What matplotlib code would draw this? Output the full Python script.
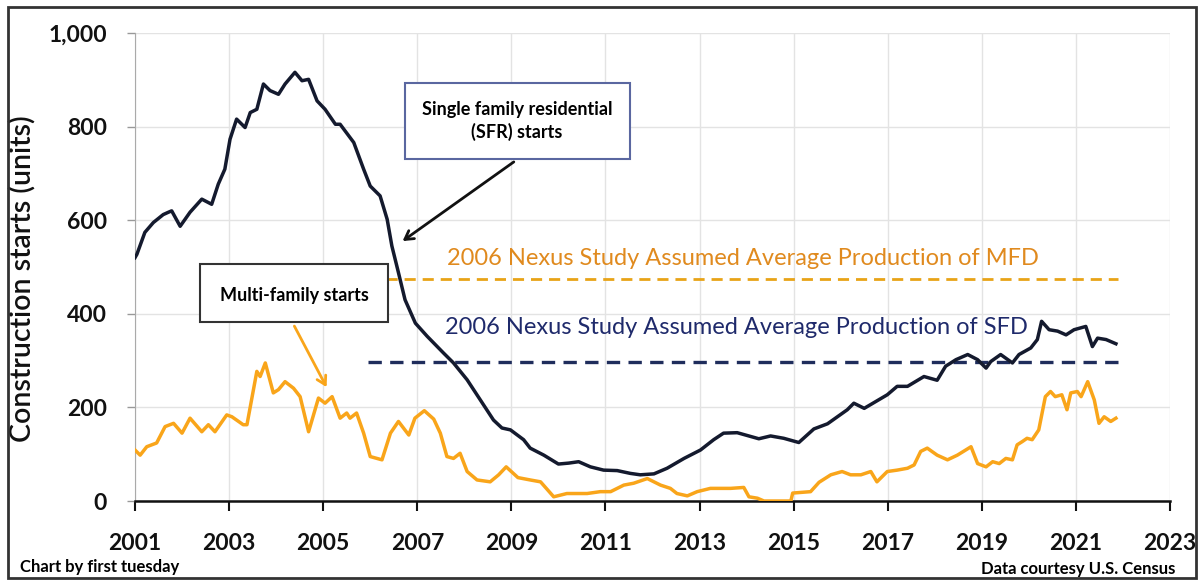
import matplotlib
matplotlib.use("Agg")
import matplotlib.pyplot as plt
from matplotlib.patches import Rectangle
from matplotlib.ticker import FuncFormatter

plt.rcParams['font.family'] = ['Lato', 'DejaVu Sans']

# single family starts (year, units)
sfr_years = [2001.0, 2001.04, 2001.21, 2001.39, 2001.6, 2001.71, 2001.78, 2001.96, 2002.17, 2002.42,
             2002.63, 2002.77, 2002.91, 2003.02, 2003.16, 2003.34, 2003.45, 2003.59, 2003.73, 2003.87,
             2004.05, 2004.19, 2004.40, 2004.55, 2004.69, 2004.87, 2005.04, 2005.26, 2005.36, 2005.65,
             2005.86, 2006.0, 2006.21, 2006.36, 2006.46, 2006.60, 2006.74, 2006.96, 2007.21, 2007.56,
             2007.77, 2008.06, 2008.34, 2008.62, 2008.8, 2008.98, 2009.26, 2009.40, 2009.69, 2010.0,
             2010.22, 2010.43, 2010.68, 2010.96, 2011.25, 2011.53, 2011.74, 2012.03, 2012.31, 2012.67,
             2013.02, 2013.30, 2013.51, 2013.80, 2014.26, 2014.51, 2014.79, 2015.11, 2015.43, 2015.72,
             2016.14, 2016.28, 2016.50, 2016.99, 2017.20, 2017.42, 2017.77, 2017.91, 2018.05, 2018.23,
             2018.45, 2018.70, 2018.91, 2019.09, 2019.19, 2019.40, 2019.65, 2019.79, 2020.04, 2020.18,
             2020.27, 2020.43, 2020.61, 2020.79, 2020.96, 2021.21, 2021.35, 2021.46, 2021.64, 2021.85]
sfr_vals = [520, 527, 574, 595, 612, 617, 620, 587, 617, 645,
            634, 677, 709, 773, 816, 798, 830, 837, 891, 877,
            869, 891, 916, 898, 901, 855, 837, 805, 805, 766,
            709, 673, 652, 602, 545, 488, 430, 380, 352, 316,
            295, 259, 216, 173, 156, 152, 131, 113, 98, 79,
            81, 84, 73, 66, 65, 59, 56, 58, 70, 91,
            109, 131, 145, 146, 133, 139, 134, 125, 154, 165,
            195, 209, 198, 227, 245, 245, 266, 262, 258, 288,
            302, 313, 302, 284, 298, 313, 295, 313, 327, 345,
            384, 366, 363, 355, 366, 373, 330, 348, 345, 336]

# multi-family starts
mfr_years = [2001.0, 2001.11, 2001.25, 2001.46, 2001.64, 2001.82, 2002.0, 2002.17, 2002.42, 2002.56,
             2002.70, 2002.95, 2003.06, 2003.30, 2003.38, 2003.59, 2003.66, 2003.77, 2003.94, 2004.05,
             2004.19, 2004.37, 2004.51, 2004.69, 2004.90, 2005.04, 2005.19, 2005.36, 2005.50, 2005.57,
             2005.71, 2005.86, 2006.0, 2006.25, 2006.43, 2006.60, 2006.82, 2006.95, 2007.15, 2007.35,
             2007.49, 2007.63, 2007.77, 2007.91, 2008.06, 2008.27, 2008.55, 2008.73, 2008.89, 2009.14,
             2009.40, 2009.62, 2009.90, 2010.18, 2010.61, 2010.89, 2011.11, 2011.39, 2011.60, 2011.89,
             2012.17, 2012.38, 2012.52, 2012.74, 2012.95, 2013.23, 2013.66, 2013.94, 2014.05, 2014.23,
             2014.37, 2014.94, 2014.98, 2015.36, 2015.54, 2015.79, 2016.03, 2016.21, 2016.43, 2016.64,
             2016.77, 2016.99, 2017.20, 2017.42, 2017.56, 2017.70, 2017.84, 2018.05, 2018.27, 2018.48,
             2018.77, 2018.91, 2019.09, 2019.23, 2019.37, 2019.51, 2019.65, 2019.75, 2019.86, 2019.96,
             2020.07, 2020.21, 2020.35, 2020.46, 2020.56, 2020.70, 2020.81, 2020.89, 2021.03, 2021.11,
             2021.25, 2021.39, 2021.49, 2021.60, 2021.74, 2021.85]
mfr_vals = [109, 98, 116, 124, 159, 166, 145, 177, 148, 163,
            148, 184, 180, 163, 163, 277, 266, 295, 231, 238,
            255, 241, 223, 148, 220, 209, 223, 177, 188, 177,
            188, 145, 95, 88, 145, 170, 141, 177, 193, 175,
            145, 95, 91, 102, 63, 45, 41, 56, 73, 50,
            45, 41, 9, 16, 16, 20, 20, 34, 38, 48,
            34, 27, 16, 11, 20, 27, 27, 29, 9, 6,
            0, 0, 17, 20, 40, 56, 63, 56, 56, 63,
            41, 63, 66, 70, 77, 106, 113, 98, 88, 98,
            116, 80, 73, 84, 80, 91, 88, 120, 127, 134,
            131, 152, 223, 234, 223, 227, 195, 231, 234, 223,
            255, 216, 166, 180, 170, 177]

# 2006 Nexus study averages
mfd_avg = 475
sfd_avg = 298
avg_span = [2005.95, 2021.9]

xticks = list(range(2001, 2024, 2))
yticks = [0, 200, 400, 600, 800, 1000]

fig = plt.figure(figsize=(12.02, 5.84), dpi=100)
ax = fig.add_axes([0.1123, 0.1421, 0.8611, 0.8014])

ax.plot(sfr_years, sfr_vals, color='#141a2e', lw=2.5, zorder=4)
ax.plot(mfr_years, mfr_vals, color='#f9a51a', lw=2.5, zorder=4)
ax.plot(avg_span, [mfd_avg, mfd_avg], color='#e8a317', lw=2, ls=(0, (4, 2.5)), zorder=3)
ax.plot(avg_span, [sfd_avg, sfd_avg], color='#1f2d5c', lw=2.4, ls=(0, (4, 2.5)), zorder=3)

ax.text(2007.63, 518, '2006 Nexus Study Assumed Average Production of MFD',
        color='#e08a1e', fontsize=17, va='center', ha='left')
ax.text(2007.6, 370, '2006 Nexus Study Assumed Average Production of SFD',
        color='#1f2a6b', fontsize=17, va='center', ha='left')

ax.set_xlim(2001, 2023)
ax.set_ylim(0, 1000)
ax.set_xticks(xticks)
ax.set_yticks(yticks)
ax.yaxis.set_major_formatter(FuncFormatter(lambda v, p: f'{v:,.0f}'))
ax.grid(True, color='#e3e3e3', lw=1)
ax.set_axisbelow(True)
for lab in ax.get_xticklabels() + ax.get_yticklabels():
    lab.set_fontweight('bold')
    lab.set_fontsize(16.5)
ax.tick_params(axis='x', length=7, width=1.5, pad=16, colors='#111111')
ax.tick_params(axis='y', length=6, width=1, pad=14, colors='#999999', labelcolor='#111111')

ax.spines['top'].set_visible(False)
ax.spines['right'].set_visible(False)
ax.spines['left'].set_color('#aaaaaa')
ax.spines['bottom'].set_color('#111111')
ax.spines['bottom'].set_linewidth(1.8)

ax.set_ylabel('Construction starts (units)', fontsize=20.5, fontweight='semibold', color='#111111')
ax.yaxis.set_label_coords(-0.095, 0.474)

# annotation boxes
fig.patches.append(Rectangle((405 / 1202, 1 - 159 / 584), 225 / 1202, 76 / 584,
                             transform=fig.transFigure, fill=True, facecolor='white',
                             edgecolor='#5a67a0', lw=1.5, zorder=5))
fig.text(517 / 1202, 1 - 121 / 584, 'Single family residential\n(SFR) starts',
         ha='center', va='center', fontsize=13, fontweight='bold', linespacing=1.35, zorder=6)
fig.patches.append(Rectangle((200 / 1202, 1 - 322 / 584), 188 / 1202, 58 / 584,
                             transform=fig.transFigure, fill=True, facecolor='white',
                             edgecolor='#333333', lw=1.5, zorder=5))
fig.text(294 / 1202, 1 - 295 / 584, 'Multi-family starts',
         ha='center', va='center', fontsize=13, fontweight='bold', zorder=6)

ax.annotate('', xy=(2006.64, 552), xytext=(2009.1, 728),
            arrowprops=dict(arrowstyle='->,head_length=0.6,head_width=0.35', color='#111111', lw=2))
ax.annotate('', xy=(2005.1, 238), xytext=(2004.36, 379),
            arrowprops=dict(arrowstyle='->,head_length=0.6,head_width=0.35', color='#f9a51a', lw=2))

fig.text(20 / 1202, 1 - 567 / 584, 'Chart by first tuesday', fontsize=12, fontweight='bold',
         ha='left', va='center')
fig.text(1175 / 1202, 1 - 569 / 584, 'Data courtesy U.S. Census', fontsize=12, fontweight='bold',
         ha='right', va='center')

fig.patches.append(Rectangle((8 / 1202, 6 / 584), 1188 / 1202, 571 / 584,
                             transform=fig.transFigure, fill=False, edgecolor='#333333', lw=2))

fig.savefig('out.png', dpi=100)
